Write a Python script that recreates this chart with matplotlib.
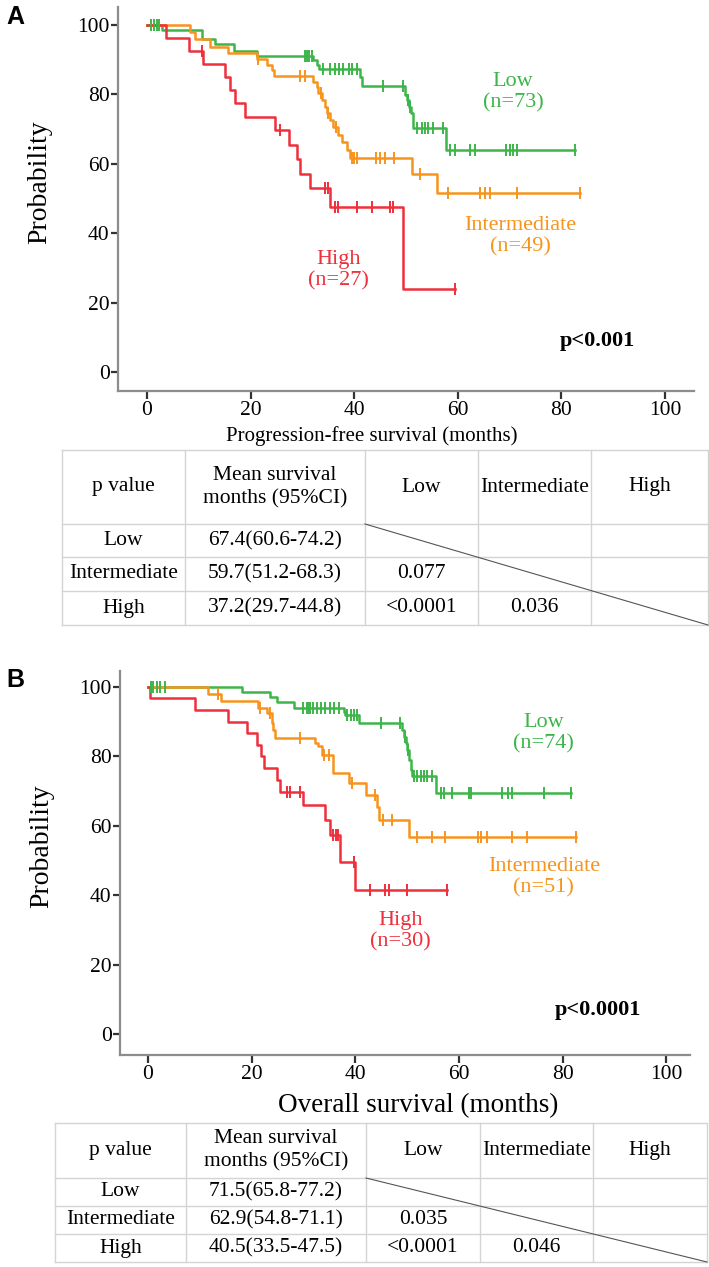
import numpy as np
import matplotlib
matplotlib.use("Agg")
import matplotlib.pyplot as plt

plt.rcParams['font.family'] = ['Liberation Serif', 'DejaVu Serif']

# ---------------- data ----------------
groups = ["Low", "Intermediate", "High"]
colors = {"Low": "#3DB54A", "Intermediate": "#F7941D", "High": "#EE2F3C"}

# Panel A: progression-free survival
A_low_t = [0, 2.96, 10.6, 13.1, 16.7, 21.2, 32.1, 32.8, 33.3, 41.1, 41.6, 49.8, 50.1, 50.6, 51.0, 51.4, 57.7]
A_low_s = [100, 98.6, 95.9, 94.5, 92.6, 91.1, 89.9, 88.5, 87.2, 85.1, 82.4, 79.8, 78.4, 76.5, 74.5, 70.2, 64.0]
A_low_end = 82.6
A_low_cens = [0.7, 1.3, 1.9, 2.4, 30.5, 30.9, 31.3, 31.8, 34.0, 35.3, 36.3, 37.1, 37.9, 38.9, 39.5, 40.5,
              45.6, 49.5, 50.3, 50.8, 52.1, 53.0, 53.7, 54.3, 55.3, 57.2, 58.5, 59.5, 62.4, 63.3, 69.4,
              70.1, 70.7, 71.4, 82.6]

A_int_t = [0, 8.3, 9.3, 12.2, 15.7, 21.2, 23.1, 24.1, 24.5, 32.1, 32.8, 33.1, 33.7, 34.4, 34.7, 35.3,
           36.0, 36.9, 37.6, 38.6, 39.2, 51.1, 55.9]
A_int_s = [100, 98.0, 95.9, 93.8, 91.8, 90.1, 88.5, 87.0, 85.3, 83.7, 82.2, 80.3, 78.4, 76.5, 74.5, 72.6,
           70.7, 68.3, 66.4, 64.0, 61.6, 57.1, 51.7]
A_int_end = 83.6
A_int_cens = [21.4, 29.5, 30.5, 33.5, 35.0, 36.5, 39.5, 40.0, 40.5, 44.3, 45.0, 46.0, 47.6, 52.7, 58.2,
              64.3, 65.3, 66.2, 71.4, 83.6]

A_high_t = [0, 3.7, 8.2, 10.8, 15.1, 16.1, 17.0, 18.9, 24.7, 27.5, 28.9, 29.5, 31.5, 35.3, 49.5]
A_high_s = [100, 96.3, 92.6, 88.9, 85.1, 81.3, 77.4, 73.5, 69.6, 65.4, 61.3, 57.2, 53.1, 47.6, 23.8]
A_high_end = 59.5
A_high_cens = [10.6, 25.7, 34.4, 35.0, 36.3, 36.8, 40.5, 43.5, 46.9, 47.5, 59.5]

# Panel B: overall survival
B_low_t = [0, 18.1, 23.5, 24.9, 28.1, 37.8, 38.1, 40.7, 49.1, 49.4, 49.7, 50.0, 50.4, 50.7, 51.0, 55.5]
B_low_s = [100, 98.6, 97.2, 95.8, 93.9, 92.9, 91.9, 89.5, 87.6, 85.7, 83.8, 81.8, 79.0, 76.1, 74.4, 69.4]
B_low_end = 81.6
B_low_cens = [0.5, 1.0, 1.7, 2.3, 3.3, 30.0, 30.6, 31.0, 31.3, 31.8, 32.6, 33.4, 34.2, 35.2, 35.9, 36.8,
              38.4, 39.1, 39.7, 40.4, 44.9, 48.7, 49.6, 50.2, 51.3, 51.9, 52.6, 53.2, 53.9, 54.9, 56.5,
              57.1, 58.7, 61.9, 62.4, 68.4, 69.4, 70.3, 76.5, 81.6]

B_int_t = [0, 11.5, 14.0, 21.3, 23.0, 23.9, 24.2, 24.6, 32.3, 32.9, 33.6, 35.8, 38.7, 42.0, 44.1, 44.6, 50.4]
B_int_s = [100, 98.0, 96.0, 93.9, 92.4, 89.5, 87.6, 85.2, 83.8, 82.9, 80.4, 75.1, 72.2, 68.9, 65.5, 61.7, 56.9]
B_int_end = 82.6
B_int_cens = [13.6, 21.6, 23.5, 29.4, 33.9, 35.0, 39.3, 43.9, 45.4, 47.0, 51.9, 54.9, 57.4, 63.6, 64.2,
              65.5, 70.3, 73.2, 82.6]

B_high_t = [0, 0.4, 9.1, 15.5, 19.1, 21.0, 21.9, 22.3, 24.9, 25.4, 30.0, 34.2, 35.1, 37.0, 40.0]
B_high_s = [100, 96.7, 93.3, 90.0, 86.7, 83.3, 80.0, 76.7, 73.3, 69.8, 66.0, 61.7, 57.3, 49.7, 41.5]
B_high_end = 57.8
B_high_cens = [26.8, 27.5, 29.4, 35.7, 36.2, 36.6, 39.8, 42.9, 45.8, 46.5, 50.0, 57.8]

A_n = [73, 49, 27]
B_n = [74, 51, 30]

x_ticks = [0, 20, 40, 60, 80, 100]
y_ticks = [0, 20, 40, 60, 80, 100]

A_xlabel = "Progression-free survival (months)"
B_xlabel = "Overall survival (months)"
A_p = "p<0.001"
B_p = "p<0.0001"

table_header = ["p value", "Mean survival\nmonths (95%CI)", "Low", "Intermediate", "High"]
A_mean = ["67.4(60.6-74.2)", "59.7(51.2-68.3)", "37.2(29.7-44.8)"]
A_pvals = {("Intermediate", "Low"): "0.077", ("High", "Low"): "<0.0001", ("High", "Intermediate"): "0.036"}
B_mean = ["71.5(65.8-77.2)", "62.9(54.8-71.1)", "40.5(33.5-47.5)"]
B_pvals = {("Intermediate", "Low"): "0.035", ("High", "Low"): "<0.0001", ("High", "Intermediate"): "0.046"}

# ---------------- figure ----------------
W, H = 709, 1267
fig = plt.figure(figsize=(W / 100, H / 100), dpi=100)
fig.patch.set_facecolor("white")


def px_axes(l, t, r, b):
    return fig.add_axes([l / W, 1 - b / H, (r - l) / W, (b - t) / H])


spine_col = "#8c8c8c"


def km_panel(ax, curves, labels, p_text, p_pos, xlim, ylim):
    for g, (t, s, end, cens) in zip(groups, curves):
        c = colors[g]
        tt = list(t) + [end]
        ss = list(s) + [s[-1]]
        ax.step(tt, ss, where="post", color=c, lw=1.8, zorder=3)
        t_arr = np.array(t)
        s_arr = np.array(s)
        idx = np.searchsorted(t_arr, np.array(cens), side="right") - 1
        ax.plot(cens, s_arr[idx], ls="none", marker="|", ms=8, mew=1.4, color=c, zorder=4)
    for g, (x, y, txt) in zip(groups, labels):
        ax.text(x, y, txt, color=colors[g], fontsize=16, ha="center", va="center", linespacing=1.15)
    ax.text(p_pos[0], p_pos[1], p_text, fontsize=16, fontweight="bold", ha="center", va="center")
    ax.set_xlim(*xlim)
    ax.set_ylim(*ylim)
    ax.set_xticks(x_ticks)
    ax.set_yticks(y_ticks)
    for sp in ["top", "right"]:
        ax.spines[sp].set_visible(False)
    for sp in ["left", "bottom"]:
        ax.spines[sp].set_color(spine_col)
        ax.spines[sp].set_linewidth(1.6)
    ax.tick_params(axis="y", length=5, width=1.6, color="#333333", labelsize=15.5, pad=1)
    ax.tick_params(axis="x", length=6, width=1.6, color="#333333", labelsize=15.5, pad=1.5)
    ax.set_ylabel("Probability", fontsize=20)
    ax.yaxis.set_label_coords(-0.115, 0.545)


axA = px_axes(118, 7, 694, 391)
km_panel(axA,
         [(A_low_t, A_low_s, A_low_end, A_low_cens),
          (A_int_t, A_int_s, A_int_end, A_int_cens),
          (A_high_t, A_high_s, A_high_end, A_high_cens)],
         [(70.7, 80.5, f"Low\n(n={A_n[0]})"),
          (72.0, 39.2, f"Intermediate\n(n={A_n[1]})"),
          (36.9, 29.4, f"High\n(n={A_n[2]})")],
         A_p, (86.9, 8.9), (-5.6, 105.6), (-5.5, 105.2))

axB = px_axes(120, 671, 690, 1055)
km_panel(axB,
         [(B_low_t, B_low_s, B_low_end, B_low_cens),
          (B_int_t, B_int_s, B_int_end, B_int_cens),
          (B_high_t, B_high_s, B_high_end, B_high_cens)],
         [(76.4, 86.7, f"Low\n(n={B_n[0]})"),
          (76.4, 45.1, f"Intermediate\n(n={B_n[1]})"),
          (48.7, 29.7, f"High\n(n={B_n[2]})")],
         B_p, (86.8, 6.9), (-5.4, 104.6), (-6.0, 104.6))

# overlay in pixel coordinates for panel letters, x-labels and tables
ov = fig.add_axes([0, 0, 1, 1], zorder=10)
ov.set_xlim(0, W)
ov.set_ylim(H, 0)
ov.axis("off")

ov.text(6, 17, "A", fontsize=18, fontweight="bold", family="Liberation Sans", ha="left", va="center")
ov.text(6, 680, "B", fontsize=18, fontweight="bold", family="Liberation Sans", ha="left", va="center")
ov.text(372, 436, A_xlabel, fontsize=15, ha="center", va="center")
ov.text(418, 1106, B_xlabel, fontsize=19.5, ha="center", va="center")

grid_col = "#d4d4d4"


def draw_table(xe, ye, mean_vals, pvals):
    for x in xe:
        ov.plot([x, x], [ye[0], ye[-1]], color=grid_col, lw=1.0)
    for y in ye:
        ov.plot([xe[0], xe[-1]], [y, y], color=grid_col, lw=1.0)
    # diagonal through the p-value block
    ov.plot([xe[2], xe[5]], [ye[1], ye[4]], color="#555555", lw=0.8)
    fs = 15.5
    for j, h in enumerate(table_header):
        ov.text((xe[j] + xe[j + 1]) / 2, (ye[0] + ye[1]) / 2, h, fontsize=fs,
                ha="center", va="center", linespacing=1.3)
    for i, g in enumerate(groups):
        yc = (ye[i + 1] + ye[i + 2]) / 2
        ov.text((xe[0] + xe[1]) / 2, yc, g, fontsize=fs, ha="center", va="center")
        ov.text((xe[1] + xe[2]) / 2, yc, mean_vals[i], fontsize=fs, ha="center", va="center")
        for j, g2 in enumerate(groups):
            key = (g, g2)
            if key in pvals:
                ov.text((xe[2 + j] + xe[3 + j]) / 2, yc, pvals[key], fontsize=fs,
                        ha="center", va="center")


draw_table([62, 185, 365, 478, 591, 708], [450, 524, 557, 591, 625], A_mean, A_pvals)
draw_table([55, 186, 366, 480, 593, 707], [1123, 1178, 1206, 1234, 1262], B_mean, B_pvals)

fig.savefig("out.png", dpi=100, facecolor="white")
